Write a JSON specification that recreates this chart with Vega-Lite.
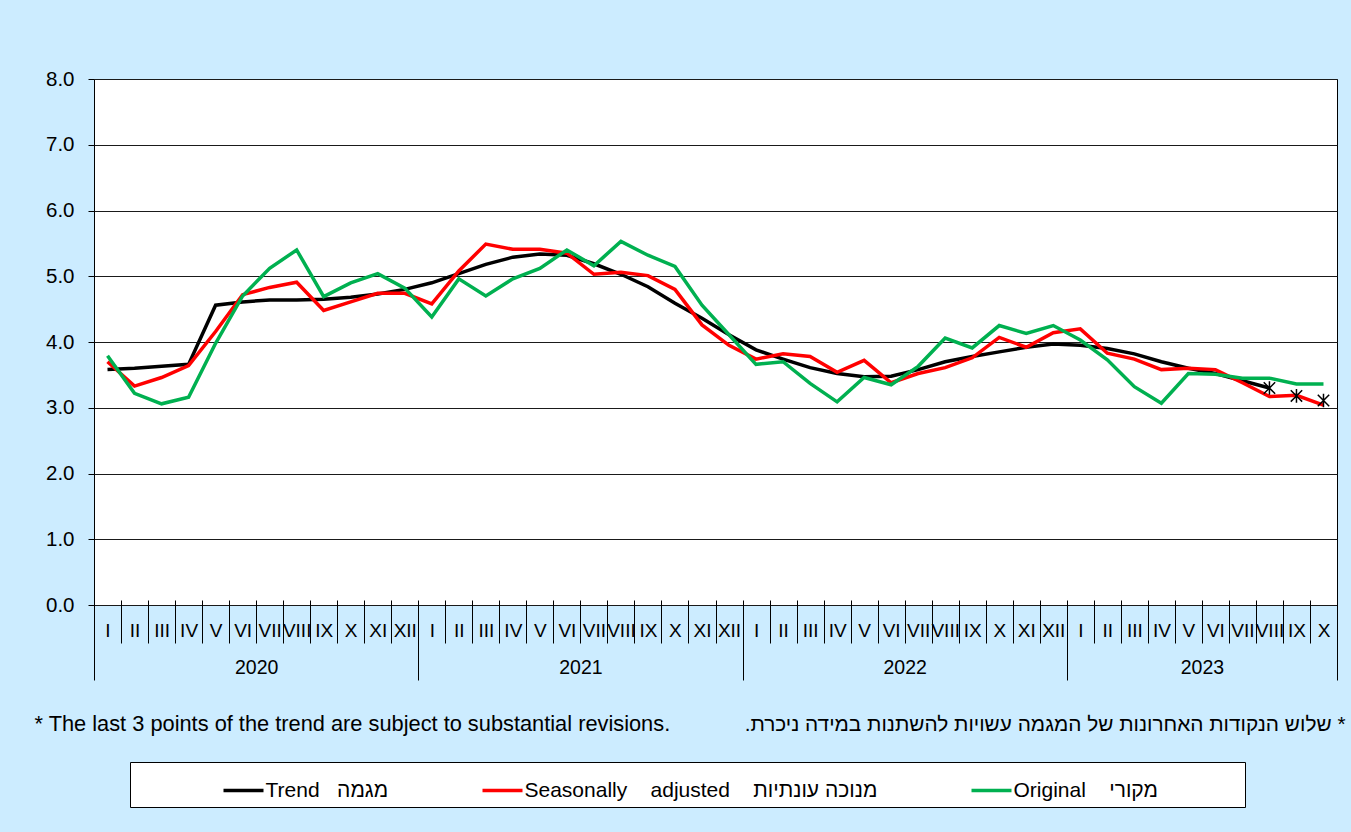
{
  "$schema": "https://vega.github.io/schema/vega-lite/v6.json",
  "width": 1243,
  "height": 526,
  "autosize": {"type": "none"},
  "padding": {"left": 94, "top": 79, "right": 14, "bottom": 227},
  "background": "#CCECFF",
  "config": {
    "font": "Liberation Sans, Arial, sans-serif",
    "view": {"stroke": "#000000", "strokeWidth": 1, "fill": "#FFFFFF"}
  },
  "datasets": {
    "series": [
      {"t": "2020-01", "trend": 3.58, "sa": 3.70, "orig": 3.79},
      {"t": "2020-02", "trend": 3.60, "sa": 3.33, "orig": 3.22},
      {"t": "2020-03", "trend": 3.63, "sa": 3.46, "orig": 3.06},
      {"t": "2020-04", "trend": 3.66, "sa": 3.64, "orig": 3.16},
      {"t": "2020-05", "trend": 4.56, "sa": 4.16, "orig": 3.98},
      {"t": "2020-06", "trend": 4.61, "sa": 4.72, "orig": 4.70},
      {"t": "2020-07", "trend": 4.64, "sa": 4.83, "orig": 5.12},
      {"t": "2020-08", "trend": 4.64, "sa": 4.91, "orig": 5.40},
      {"t": "2020-09", "trend": 4.65, "sa": 4.48, "orig": 4.69},
      {"t": "2020-10", "trend": 4.68, "sa": 4.61, "orig": 4.90},
      {"t": "2020-11", "trend": 4.73, "sa": 4.74, "orig": 5.04},
      {"t": "2020-12", "trend": 4.80, "sa": 4.74, "orig": 4.82},
      {"t": "2021-01", "trend": 4.90, "sa": 4.58, "orig": 4.38},
      {"t": "2021-02", "trend": 5.04, "sa": 5.08, "orig": 4.96},
      {"t": "2021-03", "trend": 5.18, "sa": 5.49, "orig": 4.70},
      {"t": "2021-04", "trend": 5.29, "sa": 5.41, "orig": 4.96},
      {"t": "2021-05", "trend": 5.34, "sa": 5.41, "orig": 5.12},
      {"t": "2021-06", "trend": 5.32, "sa": 5.35, "orig": 5.40},
      {"t": "2021-07", "trend": 5.19, "sa": 5.03, "orig": 5.16},
      {"t": "2021-08", "trend": 5.03, "sa": 5.06, "orig": 5.53},
      {"t": "2021-09", "trend": 4.84, "sa": 5.01, "orig": 5.32},
      {"t": "2021-10", "trend": 4.59, "sa": 4.80, "orig": 5.15},
      {"t": "2021-11", "trend": 4.36, "sa": 4.26, "orig": 4.56},
      {"t": "2021-12", "trend": 4.11, "sa": 3.95, "orig": 4.11},
      {"t": "2022-01", "trend": 3.88, "sa": 3.74, "orig": 3.66},
      {"t": "2022-02", "trend": 3.74, "sa": 3.82, "orig": 3.70},
      {"t": "2022-03", "trend": 3.61, "sa": 3.78, "orig": 3.37},
      {"t": "2022-04", "trend": 3.52, "sa": 3.54, "orig": 3.09},
      {"t": "2022-05", "trend": 3.47, "sa": 3.72, "orig": 3.46},
      {"t": "2022-06", "trend": 3.48, "sa": 3.38, "orig": 3.35},
      {"t": "2022-07", "trend": 3.58, "sa": 3.52, "orig": 3.63},
      {"t": "2022-08", "trend": 3.70, "sa": 3.61, "orig": 4.06},
      {"t": "2022-09", "trend": 3.78, "sa": 3.76, "orig": 3.91},
      {"t": "2022-10", "trend": 3.85, "sa": 4.07, "orig": 4.25},
      {"t": "2022-11", "trend": 3.92, "sa": 3.92, "orig": 4.13},
      {"t": "2022-12", "trend": 3.97, "sa": 4.14, "orig": 4.25},
      {"t": "2023-01", "trend": 3.95, "sa": 4.20, "orig": 4.03},
      {"t": "2023-02", "trend": 3.90, "sa": 3.83, "orig": 3.73},
      {"t": "2023-03", "trend": 3.82, "sa": 3.74, "orig": 3.32},
      {"t": "2023-04", "trend": 3.70, "sa": 3.58, "orig": 3.07},
      {"t": "2023-05", "trend": 3.60, "sa": 3.60, "orig": 3.52},
      {"t": "2023-06", "trend": 3.52, "sa": 3.58, "orig": 3.51},
      {"t": "2023-07", "trend": 3.41, "sa": 3.38, "orig": 3.45},
      {"t": "2023-08", "trend": 3.30, "star": 3.30, "sa": 3.17, "orig": 3.45},
      {"t": "2023-09", "trend": null, "star": 3.18, "sa": 3.19, "orig": 3.36},
      {"t": "2023-10", "trend": null, "star": 3.11, "sa": 3.04, "orig": 3.36}
    ],
    "years": [
      {"start": 0, "end": 12},
      {"start": 12, "end": 24},
      {"start": 24, "end": 36},
      {"start": 36, "end": 46}
    ]
  },
  "layer": [
    {
      "data": {"name": "series"},
      "layer": [
        {
          "transform": [{"fold": ["trend", "sa", "orig"], "as": ["key", "value"]}],
          "mark": {"type": "line", "strokeWidth": 3.5},
          "encoding": {
            "x": {
              "field": "t", "type": "ordinal",
              "scale": {"type": "band", "paddingInner": 0, "paddingOuter": 0},
              "axis": {
                "orient": "bottom", "offset": -5, "domain": false, "grid": false,
                "ticks": true, "tickBand": "extent", "tickSize": 43, "tickColor": "#000000", "tickWidth": 1,
                "labelExpr": "['I','II','III','IV','V','VI','VII','VIII','IX','X','XI','XII'][toNumber(substring(datum.value,5,7))-1]",
                "labelFontSize": 19, "labelColor": "#000000", "labelPadding": -13, "labelBaseline": "middle",
                "labelAngle": 0, "labelOverlap": false, "labelBound": false, "labelFlush": false,
                "title": null
              }
            },
            "y": {
              "field": "value", "type": "quantitative",
              "scale": {"domain": [0, 8], "nice": false, "zero": true},
              "axis": {
                "values": [0, 1, 2, 3, 4, 5, 6, 7, 8], "format": ".1f",
                "grid": true, "gridColor": "#1a1a1a", "gridWidth": 1,
                "domain": false, "tickSize": 6, "tickColor": "#000000", "tickWidth": 1,
                "labelFontSize": 20.5, "labelColor": "#000000", "labelPadding": 14,
                "title": null
              }
            },
            "color": {
              "field": "key", "type": "nominal",
              "scale": {"domain": ["trend", "sa", "orig"], "range": ["#000000", "#FF0000", "#00B050"]},
              "legend": {
                "orient": "none", "legendX": 36, "legendY": 683, "direction": "horizontal",
                "fillColor": "#FFFFFF", "strokeColor": "#000000", "padding": 6.5,
                "symbolType": "stroke", "symbolSize": 1600, "symbolStrokeWidth": 3.5,
                "symbolOffset": 85, "labelOffset": 0, "columnPadding": 7,
                "labelFontSize": 21, "labelColor": "#000000", "labelLimit": 700,
                "labelExpr": "datum.label == 'trend' ? 'Trend\u00a0\u00a0\u00a0מגמה' : datum.label == 'sa' ? 'Seasonally\u00a0\u00a0\u00a0\u00a0adjusted\u00a0\u00a0\u00a0\u00a0מנוכה עונתיות' : 'Original\u00a0\u00a0\u00a0\u00a0מקורי'",
                "title": "\u00a0", "titleOrient": "right", "titlePadding": 81, "titleFontSize": 12
              }
            }
          }
        },
        {
          "mark": {"type": "point", "shape": "M-1,-1L1,1M1,-1L-1,1M0,-1.2L0,1.2", "filled": false, "size": 130, "strokeWidth": 1.5, "color": "#000000", "opacity": 1},
          "encoding": {
            "x": {"field": "t", "type": "ordinal"},
            "y": {"field": "star", "type": "quantitative"}
          }
        }
      ]
    },
    {
      "data": {"name": "years"},
      "mark": {"type": "rect", "opacity": 0},
      "encoding": {
        "x": {
          "field": "start", "type": "quantitative",
          "scale": {"domain": [0, 46], "nice": false, "zero": false},
          "axis": {
            "orient": "bottom", "values": [0, 12, 24, 36, 46], "labels": false, "domain": false, "grid": false,
            "tickSize": 75, "tickColor": "#000000", "tickWidth": 1,
            "title": "* The last 3 points of the trend are subject to substantial revisions.",
            "titleX": -60, "titleY": 125, "titleAlign": "left", "titleAnchor": "start", "titleBaseline": "alphabetic",
            "titleFontSize": 21.8, "titleFontWeight": "normal", "titleColor": "#000000"
          }
        },
        "x2": {"field": "end"}
      }
    },
    {
      "data": {"name": "years"},
      "mark": {"type": "rect", "opacity": 0},
      "encoding": {
        "x": {
          "field": "start", "type": "quantitative",
          "scale": {"domain": [0, 46], "nice": false, "zero": false},
          "axis": {
            "orient": "bottom", "values": [6, 18, 30, 41],
            "labelExpr": "toString(2020 + floor(datum.value / 12))",
            "ticks": false, "domain": false, "grid": false,
            "labelPadding": 62, "labelBaseline": "middle", "labelFontSize": 19.5, "labelColor": "#000000",
            "labelFlush": false, "labelOverlap": false,
            "title": "\u200f* שלוש  הנקודות האחרונות של המגמה עשויות  להשתנות במידה ניכרת.\u200f",
            "titleX": 1251, "titleY": 125, "titleAlign": "right", "titleAnchor": "end", "titleBaseline": "alphabetic",
            "titleFontSize": 20.8, "titleFontWeight": "normal", "titleColor": "#000000"
          }
        },
        "x2": {"field": "end"}
      }
    }
  ],
  "resolve": {"scale": {"x": "independent"}, "axis": {"x": "independent"}}
}
